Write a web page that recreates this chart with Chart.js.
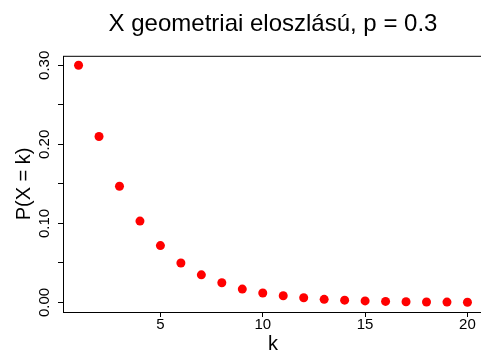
<!DOCTYPE html>
<html>
<head>
<meta charset="utf-8">
<script src="https://cdn.jsdelivr.net/npm/chart.js@4"></script>
<style>
  html, body { margin: 0; padding: 0; background: #fff; overflow: hidden; }
  #wrap { width: 481px; height: 356px; overflow: hidden; }
</style>
</head>
<body>
<div id="wrap"><canvas id="geomChart" width="490" height="356"></canvas></div>
<script>
var kValues = [1, 2, 3, 4, 5, 6, 7, 8, 9, 10, 11, 12, 13, 14, 15, 16, 17, 18, 19, 20];
var probs = [0.300, 0.210, 0.147, 0.103, 0.072, 0.050, 0.035, 0.025, 0.017, 0.012,
             0.0085, 0.006, 0.004, 0.003, 0.002, 0.0014, 0.001, 0.0007, 0.0005, 0.0003];
var xTicks = [5, 10, 15, 20];
var yTicks = [0, 0.05, 0.10, 0.15, 0.20, 0.25, 0.30];
var yLabels = {0: '0.00', 0.1: '0.10', 0.2: '0.20', 0.3: '0.30'};

var FONT = '"Liberation Sans", Arial, sans-serif';

// box around plot + rotated y labels (R style)
var framePlugin = {
    id: 'frame',
    afterDraw: function(chart) {
        var a = chart.chartArea, c = chart.ctx, y = chart.scales.y;
        c.save();
        c.strokeStyle = '#000';
        c.lineWidth = 1;
        c.strokeRect(a.left + 0.5, a.top + 0.5, a.right - a.left, a.bottom - a.top);
        c.fillStyle = '#000';
        c.font = '15px ' + FONT;
        c.textAlign = 'center';
        c.textBaseline = 'middle';
        yTicks.forEach(function(v) {
            var key = Math.round(v * 10) / 10;
            if (Math.abs(v - key) > 1e-9) return;
            c.save();
            c.translate(45, y.getPixelForValue(v));
            c.rotate(-Math.PI / 2);
            c.fillText(yLabels[key], 0, 0);
            c.restore();
        });
        c.restore();
    }
};

var ctx = document.getElementById('geomChart').getContext('2d');
var myChart = new Chart(ctx, {
    type: 'scatter',
    data: {
        datasets: [{
            data: kValues.map(function(k, i) { return {x: k, y: probs[i]}; }),
            backgroundColor: '#ff0000',
            borderWidth: 0,
            pointRadius: 4.5,
            pointHoverRadius: 4.5
        }]
    },
    options: {
        responsive: false,
        animation: false,
        events: [],
        layout: { padding: { right: 7 } },
        plugins: {
            legend: { display: false },
            tooltip: { enabled: false },
            title: {
                display: true,
                fullSize: false,
                text: 'X geometriai eloszlású, p = 0.3',
                color: '#000',
                font: { family: FONT, size: 24, weight: 'normal', lineHeight: 1.2 },
                padding: { top: 10, bottom: 17 }
            }
        },
        scales: {
            x: {
                type: 'linear',
                min: 0.24,
                max: 20.76,
                afterBuildTicks: function(s) { s.ticks = xTicks.map(function(v) { return {value: v}; }); },
                afterFit: function(s) { s.height = 44; },
                border: { display: false },
                grid: { drawOnChartArea: false, drawTicks: true, tickLength: 5, tickColor: '#000' },
                ticks: {
                    autoSkip: false, maxRotation: 0, padding: 0, color: '#000',
                    font: { family: FONT, size: 15, lineHeight: 1 }
                },
                title: {
                    display: true, text: 'k', color: '#000',
                    font: { family: FONT, size: 20, lineHeight: 1.2 },
                    padding: { top: 0, bottom: 0 }
                }
            },
            y: {
                type: 'linear',
                min: -0.012,
                max: 0.312,
                afterBuildTicks: function(s) { s.ticks = yTicks.map(function(v) { return {value: v}; }); },
                afterFit: function(s) { s.width = 63; },
                border: { display: false },
                grid: { drawOnChartArea: false, drawTicks: true, tickLength: 5, tickColor: '#000' },
                ticks: { display: false },
                title: {
                    display: true, text: 'P(X = k)', color: '#000',
                    font: { family: FONT, size: 20, lineHeight: 1.2 },
                    padding: { top: 12, bottom: 0 }
                }
            }
        }
    },
    plugins: [framePlugin]
});
</script>
</body>
</html>
